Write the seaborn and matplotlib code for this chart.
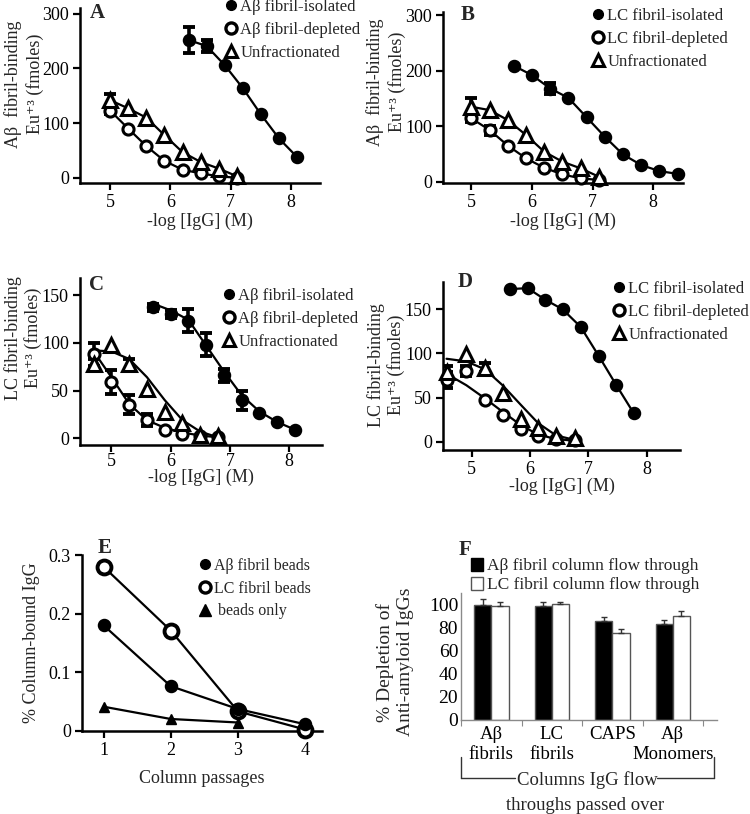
import numpy as np
import pandas as pd
import matplotlib
matplotlib.use('Agg')
import matplotlib.pyplot as plt
from matplotlib.lines import Line2D
from matplotlib.patches import Patch
import seaborn as sns

# A: Abeta fibril binding, Abeta fractions
a_x = [5.0, 5.3, 5.6, 5.9, 6.2, 6.5, 6.8, 7.1]
a_iso_x = [6.3, 6.6, 6.9, 7.2, 7.5, 7.8, 8.1]
a_iso_y = [252, 241, 206, 164, 116, 72, 38]
a_iso_err = [23, 11, 0, 0, 0, 0, 0]
a_dep_y = [123, 90, 58, 31, 15, 8, 3, 0]
a_dep_err = [6, 0, 0, 0, 0, 0, 0, 0]
a_unf_y = [142, 127, 110, 78, 47, 29, 17, 3]
a_unf_err = [12, 0, 0, 0, 0, 0, 0, 0]

# B: Abeta fibril binding, LC fractions
b_x = [5.0, 5.3, 5.6, 5.9, 6.2, 6.5, 6.8, 7.1]
b_iso_x = [5.7, 6.0, 6.3, 6.6, 6.9, 7.2, 7.5, 7.8, 8.1, 8.4]
b_iso_y = [209, 192, 168, 151, 116, 81, 49, 30, 19, 14]
b_iso_err = [0, 0, 10, 0, 0, 0, 0, 0, 0, 0]
b_dep_y = [114, 93, 65, 42, 25, 13, 6, 3]
b_dep_err = [6, 8, 0, 0, 0, 0, 0, 0]
b_unf_y = [135, 129, 111, 84, 54, 36, 24, 9]
b_unf_err = [16, 0, 0, 0, 0, 0, 0, 0]

# C: LC fibril binding, Abeta fractions
c_x = [4.7, 5.0, 5.3, 5.6, 5.9, 6.2, 6.5, 6.8]
c_iso_x = [5.7, 6.0, 6.3, 6.6, 6.9, 7.2, 7.5, 7.8, 8.1]
c_iso_y = [137, 130, 123, 98, 66, 40, 27, 17, 9]
c_iso_err = [4, 4, 12, 12, 7, 10, 0, 0, 0]
c_iso_fit = [141, 134, 124, 97, 70, 45, 28, 17, 9]
c_dep_y = [88, 59, 35, 19, 9, 5, 2, 1]
c_dep_err = [12, 13, 10, 6, 0, 0, 0, 0]
c_dep_fit = [91, 64, 36, 19, 11, 6, 3, 1]
c_unf_y = [78, 98, 78, 52, 28, 16, 3, 2]
c_unf_err = [5, 0, 5, 0, 0, 0, 0, 0]
c_unf_fit = [92, 91, 83, 64, 40, 19, 7, 1]

# D: LC fibril binding, LC fractions
d_x = [4.57, 4.91, 5.23, 5.53, 5.84, 6.14, 6.45, 6.77]
d_iso_x = [5.66, 5.96, 6.26, 6.56, 6.87, 7.18, 7.48, 7.78]
d_iso_y = [173, 174, 161, 150, 130, 97, 64, 32]
d_dep_y = [70, 80, 47, 30, 14, 6, 3, 2]
d_dep_err = [9, 6, 0, 0, 0, 0, 0, 0]
d_dep_fit = [77, 64, 49, 34, 19, 8, 3, 1]
d_unf_y = [79, 99, 84, 55, 26, 15, 6, 4]
d_unf_err = [7, 0, 5, 0, 0, 0, 0, 0]
d_unf_fit = [94, 91, 82, 64, 42, 21, 7, 2]

# E: column passages
e_x = [1, 2, 3, 4]
e_ab = [0.18, 0.076, 0.037, 0.011]
e_lc = [0.28, 0.171, 0.033, 0.002]
e_beads_x = [1, 2, 3]
e_beads = [0.041, 0.02, 0.014]

# F: depletion bars
f_groups = ['Aβ\nfibrils', 'LC\nfibrils', 'CAPS\n', 'Aβ\nMonomers']
f_ab = [100, 99, 86, 83]
f_ab_err = [5, 3, 3, 4]
f_lc = [99, 100.5, 75, 90]
f_lc_err = [3, 2, 4, 4]
f_series = ['Aβ fibril column flow through', 'LC fibril column flow through']

sns.set_theme(style='ticks')
plt.rcParams['font.family'] = ['Liberation Serif', 'DejaVu Serif']
plt.rcParams['axes.unicode_minus'] = False

W, H = 750, 814
fig = plt.figure(figsize=(7.5, 8.14), dpi=100)


def new_ax(l, t, r, b):
    ax = fig.add_axes([l / W, 1 - b / H, (r - l) / W, (b - t) / H])
    sns.despine(ax=ax)
    for s in ['left', 'bottom']:
        ax.spines[s].set_linewidth(1.8)
        ax.spines[s].set_color('black')
    ax.tick_params(length=5, width=1.6, labelsize=13, colors='black', pad=3)
    ax.set_facecolor('none')
    return ax


def series(ax, x, y, err, marker, face, fit=None, ms=8, mew=2.2):
    x = np.array(x, float)
    y = np.array(y, float)
    sns.lineplot(x=x, y=y if fit is None else fit, ax=ax, color='black', lw=1.6,
                 sort=False, estimator=None)
    if err is not None:
        e = np.array(err, float)
        m = e > 0
        ax.errorbar(x[m], y[m], yerr=e[m], fmt='none', ecolor='black',
                    elinewidth=2.6, capsize=4.5, capthick=2.8, zorder=3)
    ax.plot(x, y, ls='none', marker=marker, ms=ms, mfc=face, mec='black',
            mew=mew, zorder=4, clip_on=False)


def legend(ax, labels, px, py, fs=12, sp=0.42, kinds=('o', 'O', '^')):
    hs = []
    for k in kinds:
        if k == 'o':
            hs.append(Line2D([], [], ls='none', marker='o', ms=7, mfc='black', mec='black'))
        elif k == 'O':
            hs.append(Line2D([], [], ls='none', marker='o', ms=8, mfc='white', mec='black', mew=2.4))
        elif k == '^':
            hs.append(Line2D([], [], ls='none', marker='^', ms=9, mfc='white', mec='black', mew=2.2))
        else:
            hs.append(Line2D([], [], ls='none', marker='^', ms=8, mfc='black', mec='black'))
    ax.legend(hs, labels, loc='upper left', bbox_to_anchor=(px / W, 1 - py / H),
              bbox_transform=fig.transFigure, frameon=False, handlelength=0.6,
              handletextpad=0.25, borderpad=0, borderaxespad=0, labelspacing=sp,
              fontsize=fs)


def ftext(x, y, s, **kw):
    fig.text(x / W, 1 - y / H, s, **kw)


ylab_kw = dict(rotation=90, ha='center', va='center', multialignment='center',
               fontsize=13, linespacing=1.25)
xlab = '-log [IgG] (M)'
ylab_ab = 'Aβ  fibril-binding\nEu⁺³ (fmoles)'
ylab_lc = 'LC fibril-binding\nEu⁺³ (fmoles)'

# ---- A
ax = new_ax(80, 8.3, 320, 183.3)
series(ax, a_iso_x, a_iso_y, a_iso_err, 'o', 'black', ms=7.5)
series(ax, a_x, a_dep_y, a_dep_err, 'o', 'white')
series(ax, a_x, a_unf_y, a_unf_err, '^', 'white', ms=9.5)
ax.set_xlim(4.5, 8.48)
ax.set_ylim(-10, 310)
ax.set_xticks([5, 6, 7, 8])
ax.set_yticks([0, 100, 200, 300])
ax.set_xlabel(xlab, fontsize=13, labelpad=1)
legend(ax, ['Aβ fibril-isolated', 'Aβ fibril-depleted', 'Unfractionated'], 226, -1)
ftext(97, 13, 'A', fontsize=15, fontweight='bold', ha='center', va='center')
ftext(24, 84, ylab_ab, **ylab_kw)

# ---- B
ax = new_ax(443, 12, 683, 183.3)
series(ax, b_iso_x, b_iso_y, b_iso_err, 'o', 'black', ms=7.5)
series(ax, b_x, b_dep_y, b_dep_err, 'o', 'white')
series(ax, b_x, b_unf_y, b_unf_err, '^', 'white', ms=9.5)
ax.set_xlim(4.53, 8.49)
ax.set_ylim(-3, 306)
ax.set_xticks([5, 6, 7, 8])
ax.set_yticks([0, 100, 200, 300])
ax.set_xlabel(xlab, fontsize=13, labelpad=1)
legend(ax, ['LC fibril-isolated', 'LC fibril-depleted', 'Unfractionated'], 593, 8)
ftext(468, 15, 'B', fontsize=15, fontweight='bold', ha='center', va='center')
ftext(386, 82, ylab_ab, **ylab_kw)

# ---- C
ax = new_ax(80, 278.3, 321.7, 445)
series(ax, c_iso_x, c_iso_y, c_iso_err, 'o', 'black', fit=c_iso_fit, ms=7.5)
series(ax, c_x, c_dep_y, c_dep_err, 'o', 'white', fit=c_dep_fit)
series(ax, c_x, c_unf_y, c_unf_err, '^', 'white', fit=c_unf_fit, ms=9.5)
ax.set_xlim(4.47, 8.55)
ax.set_ylim(-7, 167.5)
ax.set_xticks([5, 6, 7, 8])
ax.set_yticks([0, 50, 100, 150])
ax.set_xlabel(xlab, fontsize=13, labelpad=-1)
ax.tick_params(axis='x', pad=1)
legend(ax, ['Aβ fibril-isolated', 'Aβ fibril-depleted', 'Unfractionated'], 224, 288)
ftext(97, 285, 'C', fontsize=15, fontweight='bold', ha='center', va='center')
ftext(23, 338, ylab_lc, **dict(ylab_kw, linespacing=1.2))

# ---- D
ax = new_ax(443, 282, 680, 450)
series(ax, d_iso_x, d_iso_y, None, 'o', 'black', ms=7.5)
series(ax, d_x, d_dep_y, d_dep_err, 'o', 'white', fit=d_dep_fit)
series(ax, d_x, d_unf_y, d_unf_err, '^', 'white', fit=d_unf_fit, ms=9.5)
ax.set_xlim(4.51, 8.57)
ax.set_ylim(-9.4, 181)
ax.set_xticks([5, 6, 7, 8])
ax.set_yticks([0, 50, 100, 150])
ax.set_xlabel(xlab, fontsize=13, labelpad=0)
legend(ax, ['LC fibril-isolated', 'LC fibril-depleted', 'Unfractionated'], 614, 281)
ftext(465, 282, 'D', fontsize=15, fontweight='bold', ha='center', va='center')
ftext(386, 365, ylab_lc, **dict(ylab_kw, linespacing=1.2))

# ---- E
ax = new_ax(82, 555, 322, 730.7)
series(ax, e_x, e_lc, None, 'o', 'white', ms=10, mew=2.8)
series(ax, e_x, e_ab, None, 'o', 'black', ms=7.5)
series(ax, e_beads_x, e_beads, None, '^', 'black', ms=7.5, mew=1)
ax.set_xlim(0.68, 4.25)
ax.set_ylim(0, 0.3)
ax.set_xticks(e_x)
ax.set_yticks([0, 0.1, 0.2, 0.3])
ax.set_yticklabels(['0', '0.1', '0.2', '0.3'])
ax.set_xlabel('Column passages', fontsize=13, labelpad=8)
ax.set_ylabel('% Column-bound IgG', fontsize=13, labelpad=6)
legend(ax, ['Aβ fibril beads', 'LC fibril beads', ' beads only'], 200, 558, fs=11.5,
       sp=0.42, kinds=('o', 'O', 'v'))
ftext(105, 548, 'E', fontsize=15, fontweight='bold', ha='center', va='center')

# ---- F
ax = new_ax(461, 593, 717, 720)
for s in ['left', 'bottom']:
    ax.spines[s].set_linewidth(1.0)
    ax.spines[s].set_color('#8a8a8a')
df = pd.DataFrame({
    'group': f_groups * 2,
    'series': [f_series[0]] * 4 + [f_series[1]] * 4,
    'value': f_ab + f_lc,
})
sns.barplot(data=df, x='group', y='value', hue='series', hue_order=f_series,
            palette=['black', 'white'], edgecolor='#555555', linewidth=1.0,
            width=0.57, gap=0, errorbar=None, legend=False, ax=ax)
for cont, errs in zip(ax.containers, [f_ab_err, f_lc_err]):
    for bar, e in zip(cont, errs):
        cx = bar.get_x() + bar.get_width() / 2
        ax.errorbar([cx], [bar.get_height()], yerr=[[0], [e]], fmt='none',
                    ecolor='#333333', elinewidth=1, capsize=2.5, capthick=1)
ax.set_xlim(-0.5, 3.73)
ax.set_ylim(0, 110)
ax.set_yticks([0, 20, 40, 60, 80, 100])
ax.set_xticks([-0.5, 0.5, 1.5, 2.5, 3.5])
ax.set_xticklabels([])
ax.set_xticks(range(4), minor=True)
ax.set_xticklabels(f_groups, minor=True, fontsize=13.5, linespacing=1.3)
ax.tick_params(axis='x', which='major', length=4, width=0.8, colors='#8a8a8a')
ax.tick_params(axis='x', which='minor', length=0, pad=4, labelcolor='black')
ax.tick_params(axis='y', length=0, width=0.8, labelsize=14, pad=2)
ax.set_xlabel('')
ax.set_ylabel('')
ax.legend([Patch(facecolor='black', edgecolor='black'), Patch(facecolor='white', edgecolor='#555555')],
          f_series, loc='upper left', bbox_to_anchor=(471 / W, 1 - 558 / H),
          bbox_transform=fig.transFigure, frameon=False, handlelength=0.7,
          handleheight=0.75, handletextpad=0.2, borderpad=0, borderaxespad=0,
          labelspacing=0.15, fontsize=12.5)
ftext(465, 550, 'F', fontsize=15, fontweight='bold', ha='center', va='center')
ftext(395, 662, '% Depletion of\nAnti-amyloid IgGs', **dict(ylab_kw, fontsize=14, linespacing=1.25))

# bracket under the F categories
for xs, ys in [([461, 461], [757, 778]), ([461, 515], [778, 778]),
               ([657, 714], [778, 778]), ([714, 714], [757, 778])]:
    fig.add_artist(Line2D([v / W for v in xs], [1 - v / H for v in ys],
                          color='#333333', lw=1.0))
ftext(587, 780, 'Columns IgG flow', fontsize=13.5, ha='center', va='center')
ftext(585, 805, 'throughs passed over', fontsize=13.5, ha='center', va='center')

fig.savefig('out.png', dpi=100)
